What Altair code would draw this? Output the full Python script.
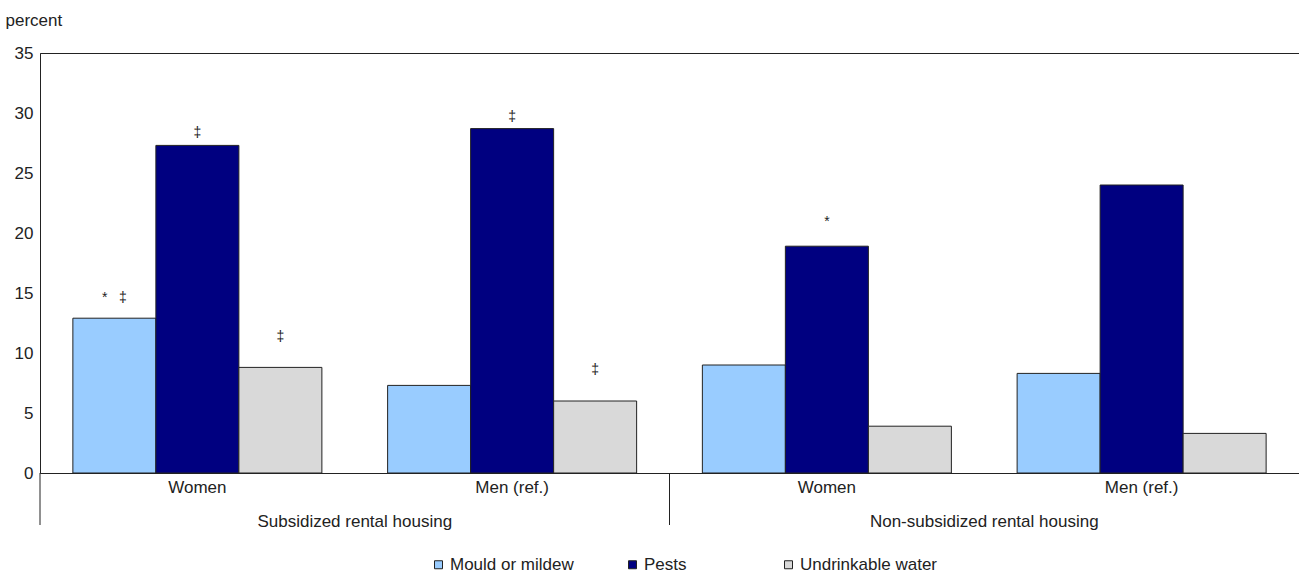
import altair as alt
import pandas as pd

# ---- data ----
housing = ["Subsidized rental housing", "Subsidized rental housing",
           "Non-subsidized rental housing", "Non-subsidized rental housing"]
sex = ["Women", "Men (ref.)", "Women", "Men (ref.)"]
series = ["Mould or mildew", "Pests", "Undrinkable water"]
colors = ["#99CCFF", "#000080", "#D9D9D9"]

mould = [12.9, 7.3, 9.0, 8.3]
pests = [27.3, 28.7, 18.9, 24.0]
water = [8.8, 6.0, 3.9, 3.3]

# significance markers (group index, series, marker, height of marker in percent units)
ann_group = [0, 0, 0, 1, 1, 2]
ann_series = ["Mould or mildew", "Pests", "Undrinkable water", "Pests", "Undrinkable water", "Pests"]
ann_text = ["*\u00a0\u00a0\u00a0‡", "‡", "‡", "‡", "‡", "*"]
ann_y = [14.6, 28.3, 11.3, 29.7, 8.6, 20.9]

groups = [f"{h}: {s}" for h, s in zip(housing, sex)]

rows = []
for i, g in enumerate(groups):
    for s, vals in zip(series, [mould, pests, water]):
        rows.append({"group": g, "housing": housing[i], "series": s, "value": vals[i]})
df = pd.DataFrame(rows)

ann_df = pd.DataFrame({
    "group": [groups[i] for i in ann_group],
    "series": ann_series,
    "text": ann_text,
    "y": ann_y,
})

sep_df = pd.DataFrame({"group": [groups[0], groups[2]]})
hous_df = pd.DataFrame({"group": [groups[0], groups[2]],
                        "label": [housing[0], housing[2]]})

FONT = "Liberation Sans"
TXT = "#222222"
FS = 17

x_scale = alt.Scale(domain=groups, paddingInner=0, paddingOuter=0)
xoff_scale = alt.Scale(domain=series, paddingInner=0, paddingOuter=0.396)
y_scale = alt.Scale(domain=[0, 35], nice=False)

pad_pests = "'Pests" + "\u00a0" * 9 + "\u200b'"

bars = alt.Chart(df).mark_bar(stroke="#222222", strokeWidth=1).encode(
    x=alt.X("group:N", scale=x_scale, sort=groups,
            axis=alt.Axis(title=None, labelExpr="split(datum.value, ': ')[1]",
                          labelAngle=0, ticks=False, domain=False,
                          labelPadding=14, labelBaseline="middle",
                          labelFontSize=FS, labelColor=TXT, labelFont=FONT)),
    xOffset=alt.XOffset("series:N", scale=xoff_scale, sort=series),
    y=alt.Y("value:Q", scale=y_scale,
            axis=alt.Axis(title="percent", titleAngle=0, titleAlign="left",
                          titleBaseline="middle", titleX=-35, titleY=-33,
                          titleFontWeight="normal", titleFontSize=FS, titleFont=FONT,
                          titleColor=TXT,
                          values=[0, 5, 10, 15, 20, 25, 30, 35], ticks=False,
                          grid=False, domainColor="#222222",
                          labelPadding=7, labelFontSize=FS, labelFont=FONT,
                          labelColor=TXT)),
    color=alt.Color("series:N", scale=alt.Scale(domain=series, range=colors),
                    legend=alt.Legend(title=None, orient="none", legendX=390, legendY=503,
                                      padding=0, offset=0,
                                      direction="horizontal", symbolType="square",
                                      symbolSize=64, symbolStrokeColor="#222222",
                                      symbolStrokeWidth=1, labelFontSize=FS,
                                      labelFont=FONT, labelColor=TXT,
                                      columnPadding=50, labelOffset=3,
                                      labelExpr="datum.label == 'Pests' ? " + pad_pests + " : datum.label")),
)

ann = alt.Chart(ann_df).mark_text(fontSize=14, font=FONT, color=TXT,
                                   baseline="middle").encode(
    x=alt.X("group:N", scale=x_scale, sort=groups),
    xOffset=alt.XOffset("series:N", scale=xoff_scale, sort=series),
    y=alt.Y("y:Q", scale=y_scale),
    text="text:N",
)

seps = alt.Chart(sep_df).mark_rule(color="#222222", strokeWidth=1).encode(
    x=alt.X("group:N", scale=x_scale, sort=groups, bandPosition=0),
    y=alt.value(420),
    y2=alt.value(472),
)

hous = alt.Chart(hous_df).mark_text(fontSize=FS, font=FONT, color=TXT,
                                    baseline="middle", align="center").encode(
    x=alt.X("group:N", scale=x_scale, sort=groups, bandPosition=1),
    y=alt.value(469),
    text="label:N",
)

chart = alt.layer(bars, ann, seps, hous).properties(
    width=1259, height=420,
    autosize=alt.AutoSizeParams(type="none"),
    padding={"left": 40, "top": 53, "right": 0, "bottom": 100},
).configure(
    font=FONT, background="white",
    view=alt.ViewConfig(stroke="#222222", strokeWidth=1),
)

chart.save("out.html", embed_options={"renderer": "svg", "actions": False})
